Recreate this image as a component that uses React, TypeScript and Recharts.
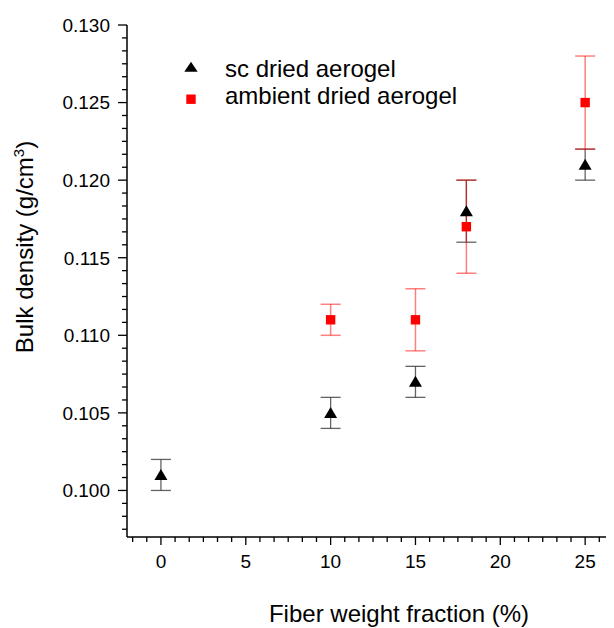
import React from 'react';
import { ScatterChart, Scatter, XAxis, YAxis, ErrorBar, Legend, Label } from 'recharts';

const scFraction = [0, 10, 15, 18, 25];
const scDensity = [0.101, 0.105, 0.107, 0.118, 0.121];
const scError = [0.001, 0.001, 0.001, 0.002, 0.001];

const ambientFraction = [10, 15, 18, 25];
const ambientDensity = [0.111, 0.111, 0.117, 0.125];
const ambientError = [0.001, 0.002, 0.003, 0.003];

const xMajorTicks = [0, 5, 10, 15, 20, 25];
const yMajorTicks = [0.1, 0.105, 0.11, 0.115, 0.12, 0.125, 0.13];

const seriesNames = ['sc dried aerogel', 'ambient dried aerogel'];

const X_DOMAIN: [number, number] = [-2, 26.7];
const Y_DOMAIN: [number, number] = [0.097, 0.13];

const FONT = '"Liberation Sans", Arial, sans-serif';

const scData = scFraction.map((x, i) => ({ x, y: scDensity[i], err: scError[i] }));
const ambientData = ambientFraction.map((x, i) => ({ x, y: ambientDensity[i], err: ambientError[i] }));

// minor ticks: 5 between majors
function withMinor(major: number[], lo: number, hi: number) {
  const step = (major[1] - major[0]) / 6;
  const out: number[] = [];
  for (let k = -20; k < 400; k++) {
    const v = major[0] + k * step;
    if (v >= lo - 1e-9 && v <= hi + 1e-9) out.push(Number(v.toFixed(6)));
  }
  return out;
}
const xTicks = withMinor(xMajorTicks, X_DOMAIN[0], X_DOMAIN[1]);
const yTicks = withMinor(yMajorTicks, Y_DOMAIN[0], Y_DOMAIN[1]);

const isMajor = (v: number, arr: number[]) => arr.some((m) => Math.abs(m - v) < 1e-7);

const XTick = (props: any) => {
  const { x, y, payload } = props;
  const v = payload.value;
  const major = isMajor(v, xMajorTicks);
  return (
    <g>
      <line x1={x} x2={x} y1={y} y2={y + (major ? 8 : 5)} stroke="#000" strokeWidth={1.3} />
      {major && (
        <text x={x} y={y + 31} textAnchor="middle" fontSize={19} fontFamily={FONT} fill="#000">
          {String(v)}
        </text>
      )}
    </g>
  );
};

const YTick = (props: any) => {
  const { x, y, payload } = props;
  const v = payload.value;
  const major = isMajor(v, yMajorTicks);
  return (
    <g>
      <line x1={x} x2={x - (major ? 9 : 5)} y1={y} y2={y} stroke="#000" strokeWidth={1.3} />
      {major && (
        <text x={x - 17} y={y + 6.8} textAnchor="end" fontSize={19} fontFamily={FONT} fill="#000">
          {v.toFixed(3)}
        </text>
      )}
    </g>
  );
};

const Triangle = (props: any) => {
  const { cx, cy } = props;
  if (cx == null || cy == null) return null;
  return <polygon points={`${cx},${cy - 6} ${cx - 6.5},${cy + 5} ${cx + 6.5},${cy + 5}`} fill="#000" />;
};

const Square = (props: any) => {
  const { cx, cy } = props;
  if (cx == null || cy == null) return null;
  return <rect x={cx - 4.7} y={cy - 4.7} width={9.4} height={9.4} fill="#ff0000" />;
};

const LegendContent = () => (
  <svg width={560} height={120} style={{ display: 'block', overflow: 'visible' }}>
    <polygon points="183,53.7 176.3,63.7 189.7,63.7" fill="#000" />
    <text x={217} y={68.7} fontSize={24} fontFamily={FONT} fill="#000">{seriesNames[0]}</text>
    <rect x={178.3} y={86.5} width={9.4} height={9.4} fill="#ff0000" />
    <text x={217} y={96.3} fontSize={24} fontFamily={FONT} fill="#000">{seriesNames[1]}</text>
  </svg>
);

export default function App() {
  return (
    <div style={{ width: 606, height: 620 }}>
      <ScatterChart width={606} height={620} margin={{ top: 17, right: 0, bottom: 31, left: 0 }}>
        <XAxis
          type="number"
          dataKey="x"
          domain={X_DOMAIN}
          ticks={xTicks}
          interval={0}
          allowDataOverflow
          height={60}
          tickSize={0}
          tickMargin={0}
          tickLine={false}
          tick={XTick}
          axisLine={{ stroke: '#000', strokeWidth: 1.5 }}
        >
          <Label
            content={() => (
              <text x={391} y={614} textAnchor="middle" fontSize={24} fontFamily={FONT} fill="#000">
                Fiber weight fraction (%)
              </text>
            )}
          />
        </XAxis>
        <YAxis
          type="number"
          dataKey="y"
          domain={Y_DOMAIN}
          ticks={yTicks}
          interval={0}
          allowDataOverflow
          width={119}
          tickSize={0}
          tickMargin={0}
          tickLine={false}
          tick={YTick}
          axisLine={{ stroke: '#000', strokeWidth: 1.5 }}
        >
          <Label
            content={() => (
              <text
                x={25}
                y={239}
                transform="rotate(-90 25 239)"
                textAnchor="middle"
                fontSize={24}
                fontFamily={FONT}
                fill="#000"
              >
                Bulk density (g/cm
                <tspan dy={-9} fontSize={15}>3</tspan>
                <tspan dy={9}>)</tspan>
              </text>
            )}
          />
        </YAxis>
        <Legend
          layout="vertical"
          align="center"
          verticalAlign="middle"
          content={LegendContent}
          wrapperStyle={{ position: 'absolute', left: 0, top: 0, width: 560, height: 120 }}
        />
        <Scatter name={seriesNames[0]} data={scData} shape={Triangle} isAnimationActive={false}>
          <ErrorBar dataKey="err" direction="y" width={10} stroke="rgba(60,60,60,0.8)" strokeWidth={1.3} />
        </Scatter>
        <Scatter name={seriesNames[1]} data={ambientData} shape={Square} isAnimationActive={false}>
          <ErrorBar dataKey="err" direction="y" width={10} stroke="rgba(255,0,0,0.5)" strokeWidth={1.5} />
        </Scatter>
      </ScatterChart>
    </div>
  );
}
